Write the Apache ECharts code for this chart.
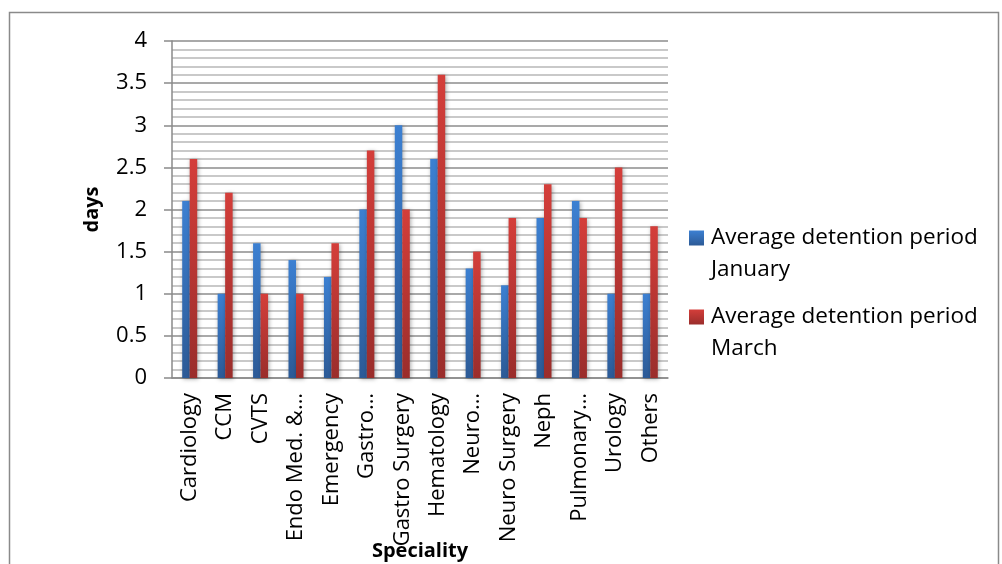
<!DOCTYPE html>
<html>
<head>
<meta charset="utf-8">
<script src="https://cdn.jsdelivr.net/npm/echarts@6/dist/echarts.min.js"></script>
<style>
  html, body { margin: 0; padding: 0; background: #fff; }
  #chart { width: 1002px; height: 564px; }
</style>
</head>
<body>
<div id="chart"></div>
<script>
// Specialities shown on the category axis
const specialities = [
  'Cardiology', 'CCM', 'CVTS', 'Endo Med. &…', 'Emergency', 'Gastro…',
  'Gastro Surgery', 'Hematology', 'Neuro…', 'Neuro Surgery', 'Neph',
  'Pulmonary…', 'Urology', 'Others'
];
// Average detention period (days)
const january = [2.1, 1.0, 1.6, 1.4, 1.2, 2.0, 3.0, 2.6, 1.3, 1.1, 1.9, 2.1, 1.0, 1.0];
const march   = [2.6, 2.2, 1.0, 1.0, 1.6, 2.7, 2.0, 3.6, 1.5, 1.9, 2.3, 1.9, 2.5, 1.8];
const seriesNames = ['Average detention period\nJanuary', 'Average detention period\nMarch'];

const FONT = '"Open Sans", sans-serif';

function grad(top, bottom) {
  return new echarts.graphic.LinearGradient(0, 0, 0, 1, [
    { offset: 0, color: top },
    { offset: 1, color: bottom }
  ]);
}

// One legend per series; a leading blank line keeps the swatch level with the first text line
function legendFor(name, top) {
  return {
    orient: 'vertical',
    left: 689,
    top: top,
    padding: 0,
    itemWidth: 15,
    itemHeight: 15,
    itemGap: 0,
    icon: 'rect',
    formatter: n => '\n' + n,
    textStyle: { fontFamily: FONT, fontSize: 22.5, color: '#000', lineHeight: 32, padding: [0, 0, 0, 2] },
    data: [name]
  };
}

const chart = echarts.init(document.getElementById('chart'), null, { renderer: 'canvas' });

chart.setOption({
  animation: false,
  backgroundColor: '#fff',
  textStyle: { fontFamily: FONT },
  graphic: [{
    type: 'rect',
    shape: { x: 9.5, y: 12.5, width: 989, height: 560 },
    style: { fill: 'none', stroke: '#8a8a8a', lineWidth: 1.5 },
    silent: true
  }],
  grid: { left: 172, right: 334, top: 41, bottom: 186, outerBoundsMode: 'none', containLabel: false },
  legend: [legendFor(seriesNames[0], 190), legendFor(seriesNames[1], 269)],
  xAxis: {
    type: 'category',
    data: specialities,
    name: 'Speciality',
    nameLocation: 'middle',
    nameGap: 163,
    nameMoveOverlap: false,
    nameTextStyle: { fontFamily: FONT, fontSize: 20, fontWeight: 'bold', color: '#000' },
    axisLine: { lineStyle: { color: '#8a8a8a', width: 1.5 } },
    axisTick: { show: false },
    axisLabel: {
      rotate: 90,
      interval: 0,
      margin: 15,
      fontFamily: FONT,
      fontSize: 22,
      color: '#000'
    }
  },
  yAxis: {
    type: 'value',
    min: 0,
    max: 4,
    interval: 0.5,
    name: 'days',
    nameLocation: 'middle',
    nameGap: 70,
    nameRotate: 90,
    nameMoveOverlap: false,
    nameTextStyle: { fontFamily: FONT, fontSize: 20, fontWeight: 'bold', color: '#000' },
    axisLine: { show: true, lineStyle: { color: '#8a8a8a', width: 1.5 } },
    axisTick: { show: true, length: 8, lineStyle: { color: '#8a8a8a', width: 1.5 } },
    axisLabel: { margin: 25, fontFamily: FONT, fontSize: 22, color: '#000' },
    splitLine: { show: true, lineStyle: { color: '#8c8c8c', width: 1.5 } },
    minorTick: { show: false, splitNumber: 5 },
    minorSplitLine: { show: true, lineStyle: { color: '#b8b8b8', width: 1.5 } }
  },
  series: [
    {
      name: seriesNames[0],
      type: 'bar',
      data: january,
      barWidth: 7.5,
      barGap: '0%',
      itemStyle: {
        color: grad('#3c80d2', '#2c5a96'),
        shadowColor: 'rgba(0,0,0,0.35)',
        shadowBlur: 4,
        shadowOffsetX: 1,
        shadowOffsetY: 1
      }
    },
    {
      name: seriesNames[1],
      type: 'bar',
      data: march,
      barWidth: 7.5,
      barGap: '0%',
      itemStyle: {
        color: grad('#d43e3a', '#9a2d2b'),
        shadowColor: 'rgba(0,0,0,0.35)',
        shadowBlur: 4,
        shadowOffsetX: 1,
        shadowOffsetY: 1
      }
    }
  ]
});
</script>
</body>
</html>
